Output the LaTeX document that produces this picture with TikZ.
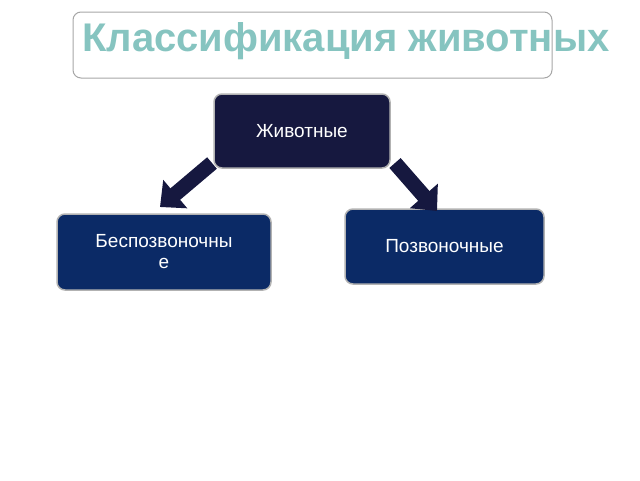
\documentclass[tikz,border=0pt]{standalone}
\usepackage{fontspec}
\setmainfont{Liberation Sans}
\usetikzlibrary{arrows.meta}
\definecolor{navy}{HTML}{16183F}
\definecolor{blueb}{HTML}{0B2A66}
\definecolor{teal1}{HTML}{86C4C0}
\tikzset{
 box/.style={draw=gray!60, line width=1.5pt, rounded corners=8pt, text=white, font=\fontsize{19}{21}\selectfont, align=center, inner sep=0pt},
 barrow/.style={navy, line width=15pt, -{Triangle[width=36pt,length=20pt]}}
}
\begin{document}
\begin{tikzpicture}[x=1pt,y=-1pt]
\useasboundingbox (0,0) rectangle (640,480);
\node[draw=gray!70, line width=1pt, rounded corners=8pt, minimum width=479pt, minimum height=66pt] (title) at (312.5,45) {};
\node[text=teal1, font=\fontsize{40}{44}\bfseries\selectfont, anchor=west, inner sep=0pt] (tt) at (82,41) {Классификация животных};
\node[box, fill=navy, minimum width=176pt, minimum height=74pt] (an) at (302,131) {Животные};
\node[box, fill=blueb, minimum width=214pt, minimum height=76pt, text width=200pt] (inv) at (164,252) {Беспозвоночны\\е};
\node[box, fill=blueb, minimum width=199pt, minimum height=75pt] (ver) at (444.5,246.5) {Позвоночные};
\coordinate (a1) at (212,163);
\coordinate (a2) at (160,207);
\coordinate (b1) at (395,163);
\coordinate (b2) at (437,211);
\draw[barrow] (a1) -- (a2);
\draw[barrow] (b1) -- (b2);
\end{tikzpicture}
\end{document}
